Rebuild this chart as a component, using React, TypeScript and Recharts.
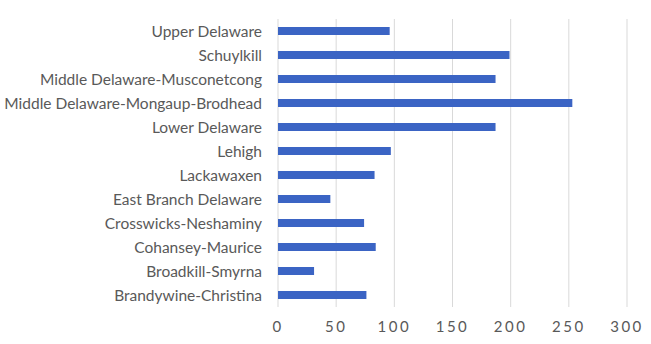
import React from 'react';
import { BarChart, Bar, XAxis, YAxis, CartesianGrid } from 'recharts';

const regions = [
  'Upper Delaware',
  'Schuylkill',
  'Middle Delaware-Musconetcong',
  'Middle Delaware-Mongaup-Brodhead',
  'Lower Delaware',
  'Lehigh',
  'Lackawaxen',
  'East Branch Delaware',
  'Crosswicks-Neshaminy',
  'Cohansey-Maurice',
  'Broadkill-Smyrna',
  'Brandywine-Christina',
];

const counts = [96, 199, 187, 253, 187, 97, 83, 45, 74, 84, 31, 76];

const xTicks = [0, 50, 100, 150, 200, 250, 300];

const data = regions.map((name, i) => ({ name, value: counts[i] }));

export default function App() {
  return (
    <div style={{ position: 'absolute', left: 0, top: 0, background: '#fff' }}>
      <BarChart
        width={651}
        height={344}
        data={data}
        layout="vertical"
        margin={{ top: 19, right: 24, bottom: 0, left: 0 }}
      >
        <CartesianGrid horizontal={false} stroke="#D9D9D9" />
        <XAxis
          type="number"
          domain={[0, 300]}
          ticks={xTicks}
          axisLine={false}
          tickLine={false}
          tick={{ fill: '#595959', fontSize: 15, fontFamily: 'Lato', letterSpacing: 2.5 }}
          tickMargin={8}
          height={37}
        />
        <YAxis
          type="category"
          dataKey="name"
          axisLine={false}
          tickLine={false}
          width={278}
          tick={{ fill: '#595959', fontSize: 15.5, fontFamily: 'Lato' }}
          tickMargin={10}
          interval={0}
        />
        <Bar dataKey="value" fill="#3B64C4" barSize={8} isAnimationActive={false} />
      </BarChart>
    </div>
  );
}
